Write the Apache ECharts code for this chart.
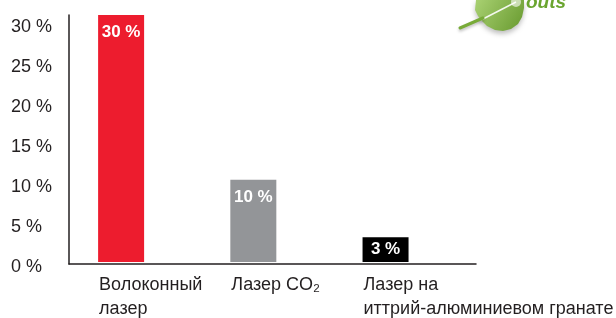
<!DOCTYPE html>
<html>
<head>
<meta charset="utf-8">
<script src="https://cdn.jsdelivr.net/npm/echarts@6/dist/echarts.min.js"></script>
<style>
  html, body { margin: 0; padding: 0; background: #fff; }
  #chart { width: 616px; height: 318px; }
</style>
</head>
<body>
<div id="chart"></div>
<script>
// данные графика
const categories = ['Волоконный\nлазер', 'Лазер CO₂', 'Лазер на\nиттрий-алюминиевом гранате'];
const shares = [30, 10, 3];
const barColors = ['#ed1c2e', '#939598', '#000000'];
const yTicks = [0, 5, 10, 15, 20, 25, 30];

const textColor = '#231f20';
const font = '"Liberation Sans", Arial, sans-serif';

const chart = echarts.init(document.getElementById('chart'), null, { renderer: 'canvas' });

// подписи категорий: текст выровнен по левому краю столбика
function catLabel(value) {
  return value.split('\n').map(line => '{a|' + line + '}').join('\n');
}

const option = {
  animation: false,
  backgroundColor: '#fff',
  grid: [
    // оси
    { left: 69, top: 15, width: 407, height: 249 },
    // столбики
    { left: 55, top: 15, width: 399, height: 249 }
  ],
  xAxis: [
    {
      gridIndex: 0,
      type: 'category',
      data: categories,
      axisLine: { lineStyle: { color: textColor, width: 1.5 } },
      axisTick: { show: false },
      axisLabel: { show: false }
    },
    {
      gridIndex: 1,
      type: 'category',
      data: categories,
      axisLine: { show: false },
      axisTick: { show: false },
      axisLabel: {
        interval: 0,
        hideOverlap: false,
        margin: 11,
        formatter: catLabel,
        rich: {
          a: { width: 44, align: 'left', fontSize: 18, fontFamily: font, color: textColor, lineHeight: 24 }
        }
      }
    }
  ],
  yAxis: [
    {
      gridIndex: 0,
      type: 'value',
      min: 0,
      max: 31.125,
      interval: 5,
      splitLine: { show: false },
      axisLine: { show: true, lineStyle: { color: textColor, width: 1.5 } },
      axisTick: { show: false },
      axisLabel: {
        align: 'left',
        verticalAlign: 'top',
        lineHeight: 6,
        margin: 58,
        fontSize: 18,
        fontFamily: font,
        color: textColor,
        formatter: v => (yTicks.includes(v) ? v + ' %' : '')
      }
    },
    {
      gridIndex: 1,
      type: 'value',
      min: 0,
      max: 30,
      show: false
    }
  ],
  series: [
    {
      type: 'bar',
      xAxisIndex: 1,
      yAxisIndex: 1,
      barWidth: 46,
      data: shares.map((v, i) => ({
        value: v,
        itemStyle: { color: barColors[i] },
        label: v < 5 ? { position: 'inside' } : {}
      })),
      label: {
        show: true,
        position: 'insideTop',
        distance: 9,
        color: '#fff',
        fontWeight: 'bold',
        fontSize: 17,
        fontFamily: font,
        formatter: p => p.value + ' %'
      }
    }
  ],
  // обрезанный логотип в правом верхнем углу
  graphic: [
    {
      type: 'polygon',
      shape: {
        points: [[476, 0], [475, 10], [478, 16], [481, 20], [487, 26], [495, 30], [503, 31], [511, 29], [518, 24], [522, 17], [524, 8], [524, 0]]
      },
      style: {
        fill: new echarts.graphic.LinearGradient(0, 0, 1, 1, [
          { offset: 0, color: '#a9d172' },
          { offset: 1, color: '#67992e' }
        ]),
        shadowColor: 'rgba(0,0,0,0.25)',
        shadowBlur: 5,
        shadowOffsetY: 3
      }
    },
    {
      type: 'line',
      shape: { x1: 481, y1: 20, x2: 516, y2: 2 },
      style: { stroke: '#ffffff', lineWidth: 1.5, opacity: 0.9 }
    },
    {
      type: 'circle',
      shape: { cx: 516, cy: 2, r: 5 },
      style: { fill: 'rgba(255,255,255,0.6)' }
    },
    {
      type: 'line',
      shape: { x1: 460, y1: 28, x2: 483, y2: 18 },
      style: {
        stroke: '#78ab38', lineWidth: 3, lineCap: 'round',
        shadowColor: 'rgba(0,0,0,0.25)', shadowBlur: 3, shadowOffsetY: 2
      }
    },
    {
      type: 'text',
      x: 526, y: -7,
      style: {
        text: 'outs',
        fill: '#6aa52f',
        font: 'italic bold 19px "Liberation Sans", Arial, sans-serif'
      }
    }
  ]
};

chart.setOption(option);
</script>
</body>
</html>
